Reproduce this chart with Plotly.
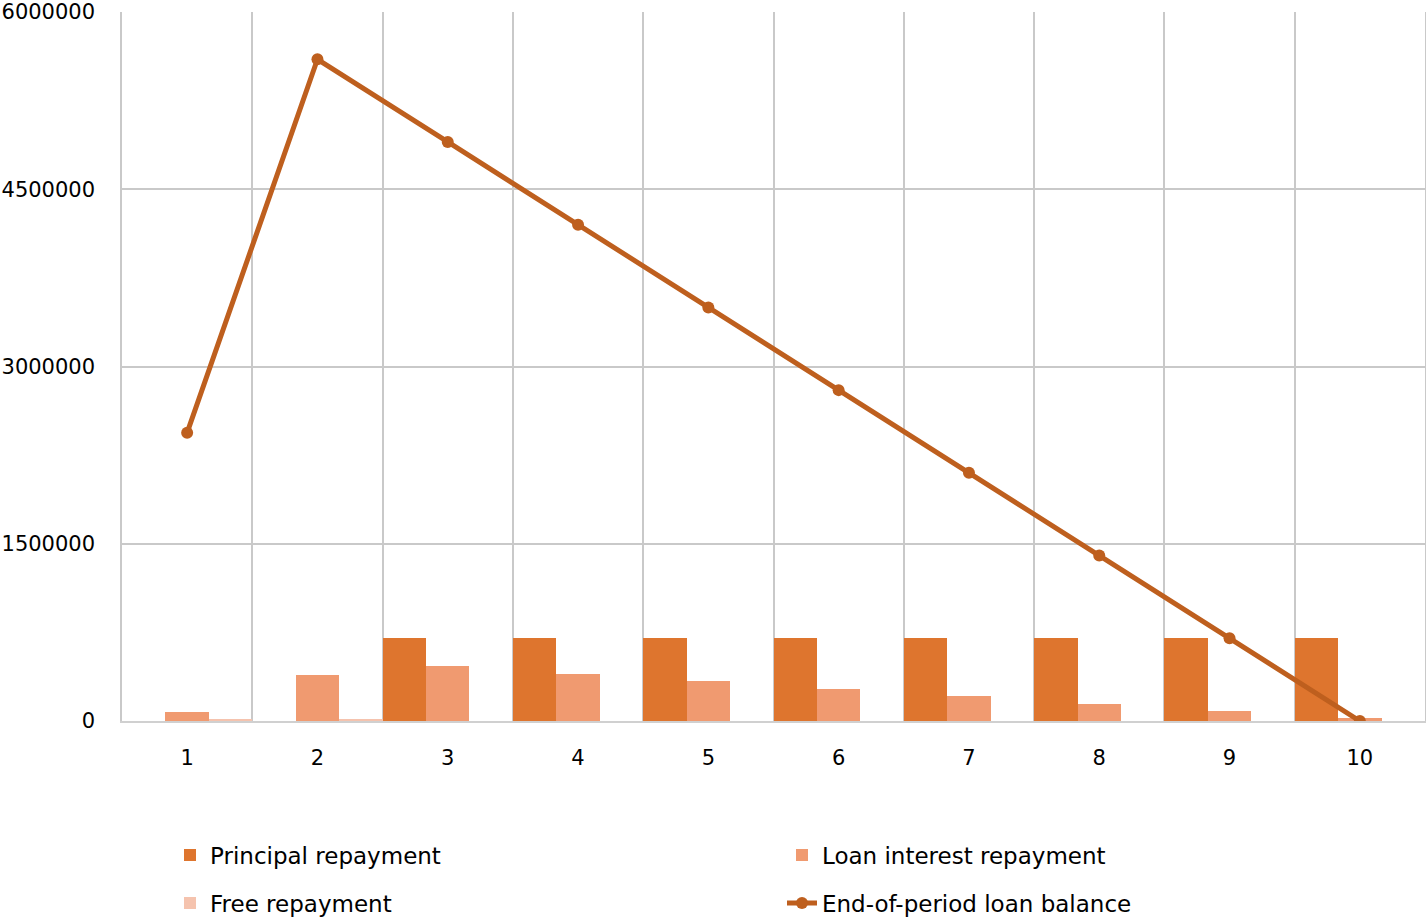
import plotly.graph_objects as go

periods = [1, 2, 3, 4, 5, 6, 7, 8, 9, 10]
principal = [0, 0, 700000, 700000, 700000, 700000, 700000, 700000, 700000, 700000]
interest = [78000, 388000, 462000, 400000, 337000, 272000, 210000, 148000, 86000, 22000]
free_rep = [14000, 20000, 0, 0, 0, 0, 0, 0, 0, 0]
balance = [2440000, 5600000, 4900000, 4200000, 3500000, 2800000, 2100000, 1400000, 700000, 0]
y_ticks = [0, 1500000, 3000000, 4500000, 6000000]

FONT = "DejaVu Sans"
GRID = "#C9C9C9"

fig = go.Figure()
fig.add_trace(go.Bar(x=periods, y=principal, name="Principal repayment",
                     marker=dict(color="#DE752E", line=dict(width=0)), legend="legend"))
fig.add_trace(go.Bar(x=periods, y=interest, name="Loan interest repayment",
                     marker=dict(color="#F09A70", line=dict(width=0)), legend="legend"))
fig.add_trace(go.Bar(x=periods, y=free_rep, name="Free repayment",
                     marker=dict(color="#F5C3AE", line=dict(width=0)), legend="legend2"))
fig.add_trace(go.Scatter(x=periods, y=balance, name="End-of-period loan balance",
                         mode="lines+markers",
                         line=dict(color="#BE5F1E", width=5),
                         marker=dict(color="#BE5F1E", size=12),
                         legend="legend2"))

legend_common = dict(orientation="h", xref="container", yref="container",
                     x=170 / 1426, xanchor="left", yanchor="middle",
                     entrywidth=567, entrywidthmode="pixels",
                     font=dict(family=FONT, size=23), bgcolor="rgba(0,0,0,0)")

fig.update_layout(
    width=1426, height=919,
    margin=dict(l=122, r=1, t=12, b=198, autoexpand=False),
    paper_bgcolor="white", plot_bgcolor="white",
    barmode="group", bargap=0, bargroupgap=0,
    font=dict(family=FONT, size=21, color="#000000"),
    xaxis=dict(range=[0.5, 10.5], tickmode="array", tickvals=periods,
               ticktext=[str(p) for p in periods], showgrid=False, zeroline=False,
               showline=True, linecolor="#D0D0D0", linewidth=2, automargin=False,
               ticks="", ticklabelstandoff=17,
               tickfont=dict(family=FONT, size=21),
               minor=dict(tickmode="array", tickvals=[p + 0.5 for p in [0] + periods],
                          showgrid=True, gridcolor=GRID, gridwidth=1.5, ticks="")),
    yaxis=dict(range=[0, 6000000], tickmode="array", tickvals=y_ticks,
               ticktext=[str(v) for v in y_ticks], showgrid=True, gridcolor=GRID,
               gridwidth=1.5, zeroline=False, showline=True, mirror=True,
               linecolor=GRID, linewidth=1.5, ticks="", ticklabelstandoff=21,
               automargin=False, tickfont=dict(family=FONT, size=21)),
    legend=dict(legend_common, y=1 - 855 / 919),
    legend2=dict(legend_common, y=1 - 903 / 919),
)

fig.write_html("out.html",
               config={"displayModeBar": False},
               post_script="document.body.style.margin='0';document.body.style.overflow='hidden';")
